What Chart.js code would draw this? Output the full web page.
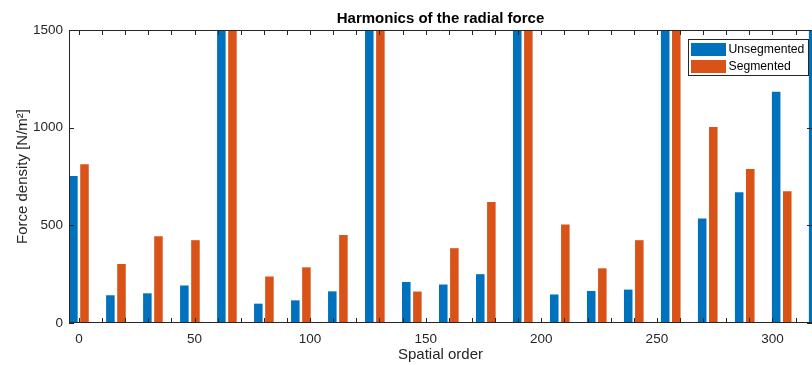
<!DOCTYPE html>
<html>
<head>
<meta charset="utf-8">
<script src="https://cdn.jsdelivr.net/npm/chart.js@4"></script>
<style>
  html, body { margin: 0; padding: 0; background: #fff; }
</style>
</head>
<body>
<canvas id="forceChart" width="812" height="365"></canvas>
<script>
// spatial order of each harmonic
const orders = [0, 16, 32, 48, 64, 80, 96, 112, 128, 144, 160, 176, 192, 208, 224, 240, 256, 272, 288, 304, 320];
// force density [N/m^2]; the multiples of 64 run off the top of the axis (> 1500)
const unsegmented = [753, 142, 152, 192, 3000, 99, 116, 162, 3000, 210, 197, 250, 3000, 146, 164, 171, 3000, 535, 670, 1184, 3000];
const segmented = [813, 302, 444, 424, 3000, 238, 285, 450, 3000, 161, 383, 619, 3000, 504, 280, 424, 3000, 1003, 788, 675, 3000];
const seriesNames = ["Unsegmented", "Segmented"];
const xTickValues = [0, 50, 100, 150, 200, 250, 300];
const yTickValues = [0, 500, 1000, 1500];

const BLUE = "#0072BD";
const ORANGE = "#D95319";
const AXIS = "#262626";
const FONT = "'Liberation Sans', Arial, Helvetica, sans-serif";

// inward ticks, box and legend drawn the matlab way
// (the right edge of the axes box falls just outside the canvas)
const matlabFrame = {
  id: "matlabFrame",
  afterDatasetsDraw(chart) {
    const { ctx, chartArea: a, scales: { x, y } } = chart;
    ctx.save();
    ctx.strokeStyle = AXIS;
    ctx.lineWidth = 1;
    ctx.beginPath();
    for (let v = 0; v <= x.max; v += 10) {
      const px = Math.round(x.getPixelForValue(v)) + 0.5;
      ctx.moveTo(px, a.bottom); ctx.lineTo(px, a.bottom - 5);
      ctx.moveTo(px, a.top); ctx.lineTo(px, a.top + 5);
    }
    yTickValues.forEach((v) => {
      const py = Math.round(y.getPixelForValue(v)) + 0.5;
      ctx.moveTo(a.left, py); ctx.lineTo(a.left + 5, py);
      ctx.moveTo(a.right, py); ctx.lineTo(a.right - 5, py);
    });
    // left, top and bottom edges of the box
    ctx.moveTo(a.right, a.top + 0.5); ctx.lineTo(a.left + 0.5, a.top + 0.5);
    ctx.lineTo(a.left + 0.5, a.bottom - 0.5); ctx.lineTo(a.right, a.bottom - 0.5);
    ctx.stroke();
    ctx.restore();
  },
  afterDraw(chart) {
    const { ctx } = chart;
    const bx = 688, by = 39, bw = 121, bh = 37;
    ctx.save();
    ctx.fillStyle = "#fff";
    ctx.fillRect(bx, by, bw, bh);
    ctx.strokeStyle = AXIS;
    ctx.lineWidth = 1;
    ctx.strokeRect(bx + 0.5, by + 0.5, bw - 1, bh - 1);
    ctx.font = "12.2px " + FONT;
    ctx.textBaseline = "middle";
    ctx.textAlign = "left";
    chart.data.datasets.forEach((ds, i) => {
      const rowY = by + 4 + i * 17;
      ctx.fillStyle = ds.backgroundColor;
      ctx.fillRect(bx + 3, rowY, 35, 13);
      ctx.fillStyle = "#000";
      ctx.fillText(ds.label, bx + 40.5, rowY + 7);
    });
    ctx.restore();
  }
};

new Chart(document.getElementById("forceChart"), {
  type: "bar",
  data: {
    datasets: [
      {
        label: seriesNames[0],
        data: orders.map((o, i) => ({ x: o, y: unsegmented[i] })),
        backgroundColor: BLUE
      },
      {
        label: seriesNames[1],
        data: orders.map((o, i) => ({ x: o, y: segmented[i] })),
        backgroundColor: ORANGE
      }
    ]
  },
  options: {
    responsive: false,
    animation: false,
    categoryPercentage: 0.6,
    barPercentage: 0.77,
    layout: { padding: 0 },
    plugins: {
      legend: { display: false },
      tooltip: { enabled: false },
      title: {
        display: true,
        fullSize: false,
        text: "Harmonics of the radial force",
        color: "#000",
        font: { family: FONT, size: 15, weight: "bold", lineHeight: 1.2 },
        padding: { top: 9.5, bottom: 2.5 }
      }
    },
    scales: {
      x: {
        type: "linear",
        offset: false,
        min: -4.3,
        max: 317.1,
        afterBuildTicks: (s) => { s.ticks = xTickValues.map((v) => ({ value: v })); },
        afterFit: (s) => { s.height = 42; },
        grid: { display: false, drawTicks: false, tickLength: 0 },
        border: { display: false },
        ticks: {
          padding: 8,
          maxRotation: 0,
          color: AXIS,
          font: { family: FONT, size: 13.5 },
          callback: (v) => String(v)
        },
        title: {
          display: true,
          text: "Spatial order",
          color: AXIS,
          font: { family: FONT, size: 15 },
          padding: { top: 0, bottom: 1.3 }
        }
      },
      y: {
        min: 0,
        max: 1500,
        afterBuildTicks: (s) => { s.ticks = yTickValues.map((v) => ({ value: v })); },
        afterFit: (s) => { s.width = 69; },
        grid: { display: false, drawTicks: false, tickLength: 0 },
        border: { display: false },
        ticks: {
          padding: 6,
          color: AXIS,
          font: { family: FONT, size: 13.5 },
          callback: (v) => String(v)
        },
        title: {
          display: true,
          text: "Force density [N/m²]",
          color: AXIS,
          font: { family: FONT, size: 15 },
          padding: { top: 13.5, bottom: 0 }
        }
      }
    }
  },
  plugins: [matlabFrame]
});
</script>
</body>
</html>
